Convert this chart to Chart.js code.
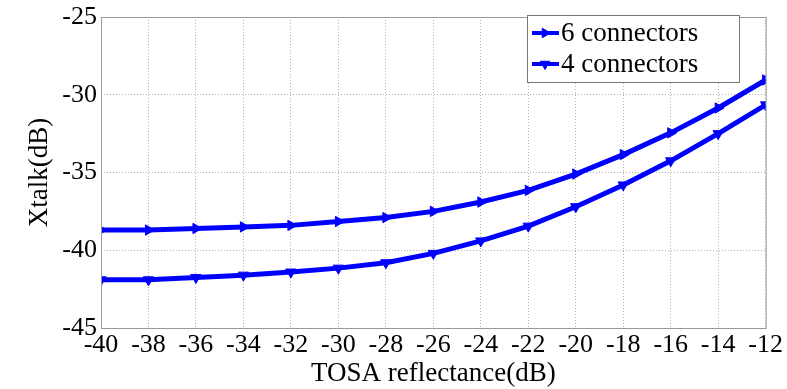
<!DOCTYPE html>
<html><head><meta charset="utf-8">
<script src="https://cdn.jsdelivr.net/npm/chart.js@4/dist/chart.umd.min.js"></script>
<style>html,body{margin:0;padding:0;background:#fff}#wrap{width:787px;height:389px}</style>
</head><body><div id="wrap"><canvas id="c" width="787" height="389"></canvas></div>
<script>
const xValues = [-40,-38,-36,-34,-32,-30,-28,-26,-24,-22,-20,-18,-16,-14,-12];
const sixConnectors = [-38.7,-38.7,-38.6,-38.5,-38.4,-38.15,-37.9,-37.5,-36.9,-36.15,-35.1,-33.85,-32.45,-30.85,-29.05];
const fourConnectors = [-41.9,-41.9,-41.75,-41.6,-41.4,-41.15,-40.8,-40.2,-39.4,-38.45,-37.2,-35.8,-34.25,-32.5,-30.65];
const seriesLabels = ["6 connectors","4 connectors"];
const xTitle = "TOSA reflectance(dB)";
const yTitle = "Xtalk(dB)";

const FONT = "'Liberation Serif','Times New Roman',serif";
const BLUE = "#0000ff";

const frame = {
  id:'frame',
  afterDatasetsDraw(chart){
    const {ctx, chartArea:a} = chart;
    ctx.save();
    ctx.strokeStyle = '#999';
    ctx.lineWidth = 1;
    ctx.strokeRect(a.left+0.5, a.top+0.5, a.right-a.left, a.bottom-a.top);
    // legend box
    const bx = 527, by = 15, bw = 212, bh = 67;
    ctx.fillStyle = '#fff';
    ctx.fillRect(bx, by, bw, bh);
    ctx.strokeStyle = '#777';
    ctx.strokeRect(bx+0.5, by+0.5, bw, bh);
    ctx.font = "27px " + FONT;
    ctx.textBaseline = 'middle';
    chart.data.datasets.forEach((ds,i)=>{
      const y = by + 18 + i*31;
      ctx.strokeStyle = ds.borderColor;
      ctx.lineWidth = 4;
      ctx.beginPath(); ctx.moveTo(bx+5, y); ctx.lineTo(bx+32, y); ctx.stroke();
      ctx.fillStyle = ds.backgroundColor;
      ctx.lineWidth = 1;
      Chart.helpers.drawPoint(ctx, {pointStyle:'triangle', rotation: ds.pointRotation, radius: 5.5, borderWidth:1}, bx+18, y);
      ctx.fillStyle = '#000';
      ctx.fillText(ds.label, bx+34, y+1);
    });
    ctx.restore();
  }
};

new Chart(document.getElementById('c'), {
  type:'line',
  data:{
    datasets:[
      {label:seriesLabels[0], data:xValues.map((x,i)=>({x, y:sixConnectors[i]})), borderColor:BLUE, backgroundColor:BLUE, borderWidth:5, pointStyle:'triangle', pointRotation:90, pointRadius:6, pointBorderWidth:1, tension:0},
      {label:seriesLabels[1], data:xValues.map((x,i)=>({x, y:fourConnectors[i]})), borderColor:BLUE, backgroundColor:BLUE, borderWidth:5, pointStyle:'triangle', pointRotation:180, pointRadius:6, pointBorderWidth:1, tension:0}
    ]
  },
  options:{
    responsive:false, animation:false,
    layout:{padding:{top:16, right:19, left:0, bottom:0}},
    plugins:{legend:{display:false}, tooltip:{enabled:false}},
    scales:{
      x:{type:'linear', min:-40, max:-12,
        ticks:{stepSize:2, color:'#000', font:{family:FONT, size:26, lineHeight:1}, padding:4, maxRotation:0, autoSkip:false},
        grid:{color:'#b0b0b0', lineWidth:1, drawTicks:false},
        border:{display:false, dash:[1,2]},
        title:{display:true, text:xTitle, color:'#000', font:{family:FONT, size:27, lineHeight:1}, padding:{top:0,bottom:2}},
        afterFit(s){ s.height = 61; }
      },
      y:{min:-45, max:-25,
        ticks:{stepSize:5, color:'#000', font:{family:FONT, size:26, lineHeight:1}, padding:4},
        grid:{color:'#b0b0b0', lineWidth:1, drawTicks:false},
        border:{display:false, dash:[1,2]},
        title:{display:true, text:yTitle, color:'#000', font:{family:FONT, size:27, lineHeight:1}, padding:{top:26,bottom:0}},
        afterFit(s){ s.width = 101; }
      }
    }
  },
  plugins:[frame]
});
</script>
</body></html>
